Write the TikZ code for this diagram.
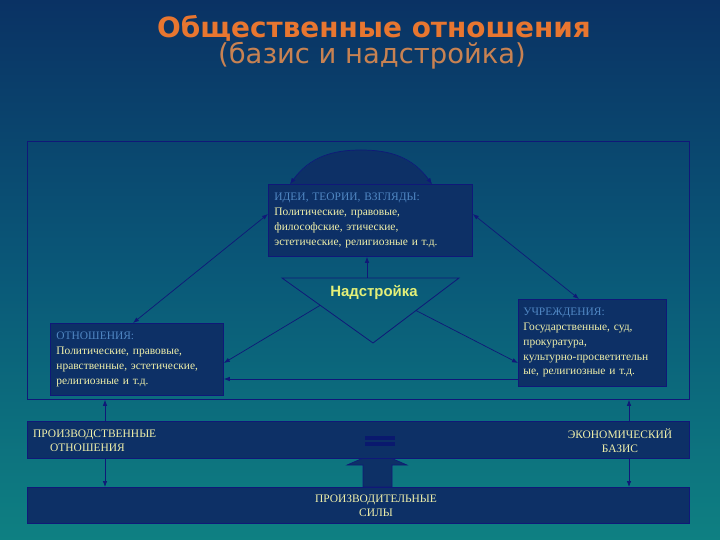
\documentclass[tikz,border=0pt]{standalone}
\usepackage{fontspec}
\setmainfont{Liberation Serif}
\newfontfamily\titlefont{DejaVu Sans}
\newfontfamily\labelfont{Liberation Sans}
\usetikzlibrary{arrows.meta,calc}
\definecolor{bgtop}{RGB}{10,50,100}
\definecolor{bgmid}{RGB}{10,88,120}
\definecolor{bgbot}{RGB}{14,128,130}
\definecolor{boxfill}{RGB}{13,48,102}
\definecolor{navy}{RGB}{16,24,120}
\definecolor{eqc}{RGB}{10,25,110}
\definecolor{hdr}{RGB}{80,135,195}
\definecolor{txt}{RGB}{240,240,170}
\definecolor{ttl}{RGB}{232,118,48}
\definecolor{subc}{RGB}{200,130,82}
\definecolor{nadc}{RGB}{228,240,120}
\begin{document}
\begin{tikzpicture}[x=1bp,y=-1bp,
  box/.style={draw=navy, line width=0.8bp, fill=boxfill, anchor=north west, align=left,
    inner xsep=6bp, inner ysep=0pt, font=\fontsize{11.5}{14.8}\selectfont, text=txt},
  bar/.style={draw=navy, line width=0.8bp, fill=boxfill, anchor=north west,
    minimum width=662bp, inner sep=0pt},
  arr/.style={draw=navy, line width=0.7bp, -{Latex[length=6bp,width=4.5bp]}},
  darr/.style={draw=navy, line width=0.7bp, {Latex[length=6bp,width=4.5bp]}-{Latex[length=6bp,width=4.5bp]}},
  btxt/.style={font=\fontsize{11.5}{14}\selectfont, text=txt, inner sep=0pt}
]
\useasboundingbox (0,0) rectangle (720,540);
\shade[top color=bgtop, bottom color=bgbot, middle color=bgmid] (0,0) rectangle (720,540);

% title
\node[font=\titlefont\bfseries\fontsize{28}{30}\selectfont, text=ttl] (title) at (374,28) {Общественные отношения};
\node[font=\titlefont\fontsize{27.5}{30}\selectfont, text=subc] (subtitle) at (372,56) {(базис и надстройка)};

% outer frame
\node[draw=navy, line width=0.8bp, minimum width=662bp, minimum height=258bp, anchor=north west, inner sep=0pt] (frame) at (27,141) {};

% arc above ideas
\fill[boxfill] (290,184) .. controls (310,157) and (332,150) .. (361,150) .. controls (390,150) and (412,157) .. (432,184) -- cycle;

% boxes
\node[box, text width=192bp, minimum height=72bp] (ideas) at (268,184)
  {{\color{hdr}ИДЕИ, ТЕОРИИ, ВЗГЛЯДЫ:}\\Политические, правовые,\\философские, этические,\\эстетические, религиозные и т.д.};
\node[box, text width=161bp, minimum height=72bp] (rel) at (50,323)
  {{\color{hdr}ОТНОШЕНИЯ:}\\Политические, правовые,\\нравственные, эстетические,\\религиозные и т.д.};
\node[box, text width=138bp, minimum height=87bp, inner xsep=5bp] (inst) at (518,299)
  {{\color{hdr}УЧРЕЖДЕНИЯ:}\\Государственные, суд,\\прокуратура,\\\mbox{культурно-просветительн}\\ые, религиозные и т.д.};

% arc arrows
\draw[darr] ($(ideas.north west)+(22,0)$) .. controls (310,157) and (332,150) .. (361,150) .. controls (390,150) and (412,157) .. ($(ideas.north west)+(164,0)$);

% triangle "Надстройка"
\coordinate (tl) at (282,278);
\coordinate (tr) at (459,278);
\coordinate (ta) at (373,343);
\coordinate (tT) at (367,278);
\draw[navy, line width=0.8bp] (tl) -- (tr) -- (ta) -- cycle;
\node[font=\labelfont\bfseries\fontsize{15}{17}\selectfont, text=nadc, inner sep=0pt] (nad) at (374,292) {Надстройка};

% connectors
\draw[darr] ($(rel.north west)+(83,0)$) -- ($(ideas.north west)+(0,30)$);
\draw[darr] ($(ideas.north east)+(0,30)$) -- ($(inst.north west)+(61,0)$);
\draw[arr] (tT) -- (tT |- ideas.south);
\draw[arr] ($(tl)!0.42!(ta)$) -- ($(rel.north east)+(0,40)$);
\draw[arr] ($(tr)!0.5!(ta)$) -- ($(inst.north west)+(0,64)$);
\draw[arr] ($(inst.north west)+(0,80)$) -- ($(rel.north east)+(0,56)$);

% big arrow (drawn under bars)
\filldraw[fill=boxfill, draw=navy, line width=0.6bp] (363,487) -- (363,465) -- (347,465) -- (377,452) -- (407,465) -- (392,465) -- (392,487) -- cycle;

% bars
\node[bar, minimum height=37bp] (base) at (27,421) {};
\node[bar, minimum height=36bp] (forces) at (27,487) {};
\fill[eqc] (365,436) rectangle (395,439.5);
\fill[eqc] (365,442) rectangle (395,445.5);

\node[btxt, anchor=west, align=left] (bl) at (33,441) {ПРОИЗВОДСТВЕННЫЕ\\\hspace*{17bp}ОТНОШЕНИЯ};
\node[btxt, align=center] (br) at (620,441) {ЭКОНОМИЧЕСКИЙ\\БАЗИС};
\node[btxt, align=center] (fl) at (376,506) {ПРОИЗВОДИТЕЛЬНЫЕ\\СИЛЫ};

\coordinate (aL) at (105,0);
\coordinate (aR) at (629,0);
\draw[arr] (base.north -| aL) -- (frame.south -| aL);
\draw[arr] (base.north -| aR) -- (frame.south -| aR);
\draw[arr] (base.south -| aL) -- (forces.north -| aL);
\draw[arr] (base.south -| aR) -- (forces.north -| aR);
\end{tikzpicture}
\end{document}
